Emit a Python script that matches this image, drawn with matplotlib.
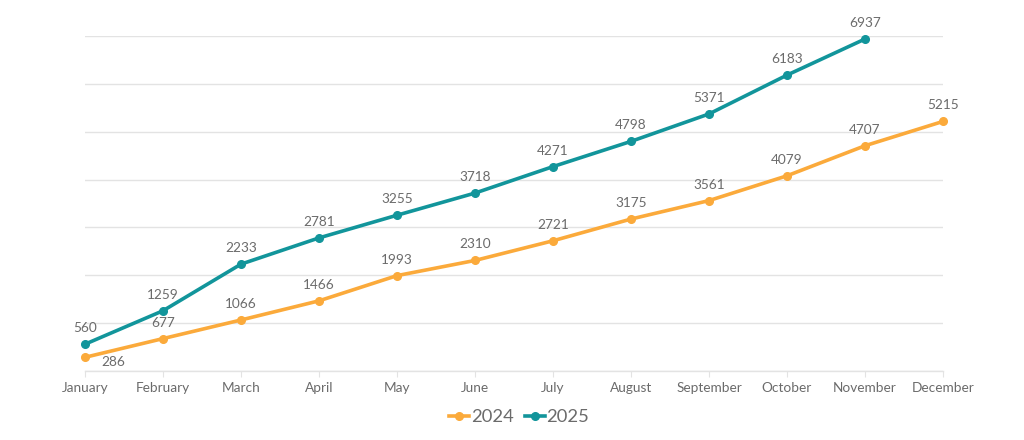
import matplotlib
matplotlib.use("Agg")
import matplotlib.pyplot as plt

months = ["January", "February", "March", "April", "May", "June", "July",
          "August", "September", "October", "November", "December"]
values_2024 = [286, 677, 1066, 1466, 1993, 2310, 2721, 3175, 3561, 4079, 4707, 5215]
values_2025 = [560, 1259, 2233, 2781, 3255, 3718, 4271, 4798, 5371, 6183, 6937]

orange = "#fbaa3b"
teal = "#12959b"
grey_text = "#6b6b6b"
grid_col = "#e3e3e3"

plt.rcParams["font.family"] = ["Lato", "DejaVu Sans"]

fig = plt.figure(figsize=(10.24, 4.4), dpi=100)
ax = fig.add_axes([85 / 1024, 69 / 440, 858 / 1024, 335 / 440])

x24 = list(range(len(values_2024)))
x25 = list(range(len(values_2025)))

ax.plot(x24, values_2024, color=orange, lw=2.6, marker="o", ms=5.5, label="2024", zorder=3)
ax.plot(x25, values_2025, color=teal, lw=2.6, marker="o", ms=5.5, label="2025", zorder=3)

# data labels, centered ~16px above each point
for i, v in enumerate(values_2024):
    if i == 0:
        ax.annotate(str(v), (i, v), xytext=(28, -5), textcoords="offset pixels",
                    ha="center", va="center", fontsize=9.8, color=grey_text)
    else:
        ax.annotate(str(v), (i, v), xytext=(0, 16), textcoords="offset pixels",
                    ha="center", va="center", fontsize=9.8, color=grey_text)
for i, v in enumerate(values_2025):
    ax.annotate(str(v), (i, v), xytext=(0, 16), textcoords="offset pixels",
                ha="center", va="center", fontsize=9.8, color=grey_text)

ax.set_xlim(0, 11)
ax.set_ylim(0, 7000)
ax.set_yticks(range(0, 7001, 1000))
ax.yaxis.grid(True, color=grid_col, lw=1)
ax.set_axisbelow(True)
ax.tick_params(axis="y", left=False, labelleft=False)

ax.set_xticks(x24)
ax.set_xticklabels(months)
ax.tick_params(axis="x", length=4, color=grid_col, pad=4, labelsize=9.8, labelcolor=grey_text)

for side in ["top", "right", "left"]:
    ax.spines[side].set_visible(False)
ax.spines["bottom"].set_color(grid_col)
ax.spines["bottom"].set_linewidth(1)

leg = fig.legend(loc="center", bbox_to_anchor=(519 / 1024, 23 / 440), ncol=2, frameon=False,
                 fontsize=13.2, handlelength=1.1, handletextpad=0.1, columnspacing=0.6,
                 labelcolor=grey_text)

for line in ax.lines:
    line.set_clip_on(False)

fig.savefig("out.png", dpi=100)
